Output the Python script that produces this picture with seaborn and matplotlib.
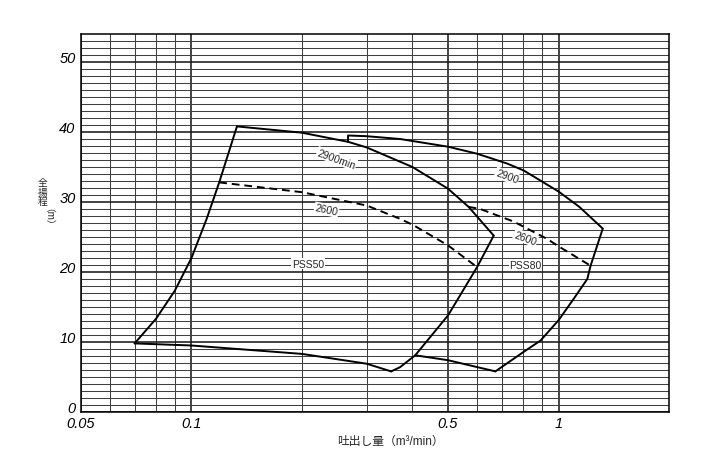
import seaborn as sns
import numpy as np
import matplotlib.pyplot as plt
from matplotlib.ticker import NullFormatter
from matplotlib.transforms import ScaledTranslation

### data (x: m3/min, y: m)

# PSS50 envelope
pss50_left_x = [0.07, 0.08, 0.09, 0.1, 0.11, 0.119, 0.133]
pss50_left_y = [9.8, 13.3, 17.3, 22.0, 27.6, 32.8, 40.8]
pss50_2900_x = [0.133, 0.2, 0.267, 0.3, 0.4, 0.5, 0.569, 0.666]
pss50_2900_y = [40.8, 39.9, 38.6, 37.8, 35.0, 31.9, 29.3, 25.2]
pss50_right_x = [0.666, 0.6, 0.5, 0.407, 0.37, 0.35]
pss50_right_y = [25.2, 20.7, 13.8, 8.1, 6.4, 5.8]
pss50_bottom_x = [0.07, 0.1, 0.2, 0.3, 0.35]
pss50_bottom_y = [9.8, 9.5, 8.3, 6.9, 5.8]
pss50_2600_x = [0.119, 0.2, 0.3, 0.37, 0.402, 0.5, 0.6]
pss50_2600_y = [32.8, 31.4, 29.5, 27.6, 26.7, 23.8, 20.7]

# PSS80 envelope
pss80_2900_x = [0.267, 0.267, 0.3, 0.37, 0.5, 0.6, 0.724, 0.804, 1.0, 1.14, 1.32]
pss80_2900_y = [38.6, 39.5, 39.4, 39.0, 37.9, 36.9, 35.5, 34.5, 31.5, 29.3, 26.2]
pss80_right_x = [1.32, 1.223, 1.198, 1.101, 1.0, 0.893, 0.804, 0.673]
pss80_right_y = [26.2, 20.9, 19.0, 16.2, 13.1, 10.2, 8.6, 5.8]
pss80_bottom_x = [0.407, 0.5, 0.673]
pss80_bottom_y = [8.1, 7.4, 5.8]
pss80_2600_x = [0.569, 0.612, 0.755, 0.933, 1.005, 1.223]
pss80_2600_y = [29.3, 29.0, 27.2, 24.7, 23.6, 20.9]

x_major = [0.05, 0.1, 0.5, 1]
x_major_labels = ["0.05", "0.1", "0.5", "1"]
x_minor = [0.06, 0.07, 0.08, 0.09, 0.2, 0.3, 0.4, 0.6, 0.7, 0.8, 0.9]
y_major = [0, 10, 20, 30, 40, 50]

# (text, x, y, rotation)
curve_labels = [
    ("2900min", 0.2485, 36.2, -20),
    ("2600", 0.2333, 28.9, -12),
    ("PSS50", 0.2075, 21.2, 0),
    ("2900", 0.7241, 33.7, -20),
    ("2600", 0.8128, 24.9, -20),
    ("PSS80", 0.8128, 21.0, 0),
]

sns.set_style("white")
plt.rcParams["font.family"] = ["Liberation Sans", "Noto Sans CJK JP"]

fig = plt.figure(figsize=(7.28, 4.64), dpi=100)
ax = fig.add_axes([81 / 728, 1 - 413 / 464, 588 / 728, 378 / 464])
ax.set_xscale("log")

solid = [
    (pss50_left_x, pss50_left_y), (pss50_2900_x, pss50_2900_y),
    (pss50_right_x, pss50_right_y), (pss50_bottom_x, pss50_bottom_y),
    (pss80_2900_x, pss80_2900_y), (pss80_right_x, pss80_right_y),
    (pss80_bottom_x, pss80_bottom_y),
]
for xs, ys in solid:
    sns.lineplot(x=xs, y=ys, sort=False, estimator=None, color="black",
                 lw=1.4, ax=ax, zorder=4)
for xs, ys in [(pss50_2600_x, pss50_2600_y), (pss80_2600_x, pss80_2600_y)]:
    sns.lineplot(x=xs, y=ys, sort=False, estimator=None, color="black",
                 lw=1.4, ax=ax, zorder=4, linestyle=(0, (4, 2.5)))

ax.set_xlim(0.05, 2)
ax.set_ylim(0, 54)
ax.set_xticks(x_major)
ax.set_xticklabels(x_major_labels)
ax.set_xticks(x_minor, minor=True)
ax.xaxis.set_minor_formatter(NullFormatter())
ax.set_yticks(y_major)
ax.set_yticks([v for v in range(1, 54) if v % 10], minor=True)
ax.tick_params(which="both", length=0)
ax.tick_params(axis="x", pad=3)
ax.tick_params(axis="y", pad=4)
for lbl in ax.get_xticklabels() + ax.get_yticklabels():
    lbl.set_fontstyle("italic")
    lbl.set_fontsize(10.5)
    lbl.set_color("black")

ax.grid(which="minor", color="#404040", lw=0.75)
ax.grid(which="major", color="#1a1a1a", lw=1.15)
ax.set_axisbelow(True)
for s in ax.spines.values():
    s.set_color("black")
    s.set_linewidth(1.1)

# y tick labels sit a little above their grid lines
for t in ax.yaxis.get_major_ticks():
    t.label1.set_transform(t.label1.get_transform() +
                           ScaledTranslation(0, 0.05, fig.dpi_scale_trans))

for txt, x, y, rot in curve_labels:
    ax.text(x, y, txt, rotation=rot, ha="center", va="center", fontsize=7.5,
            rotation_mode="anchor", zorder=5,
            bbox=dict(facecolor="white", edgecolor="none", pad=0.6))

fig.text(390 / 728, 1 - 442 / 464, "吐出し量（m³/min）", ha="center",
         va="center", fontsize=8.5)
fig.text(42.7 / 728, 1 - 192.5 / 464, "全\n揚\n程", ha="center", va="center",
         fontsize=7, linespacing=0.95)
fig.text(42.7 / 728, 1 - 222 / 464, "（m）", ha="center", va="center",
         fontsize=7, rotation=-90)

fig.savefig("out.png", dpi=100)
